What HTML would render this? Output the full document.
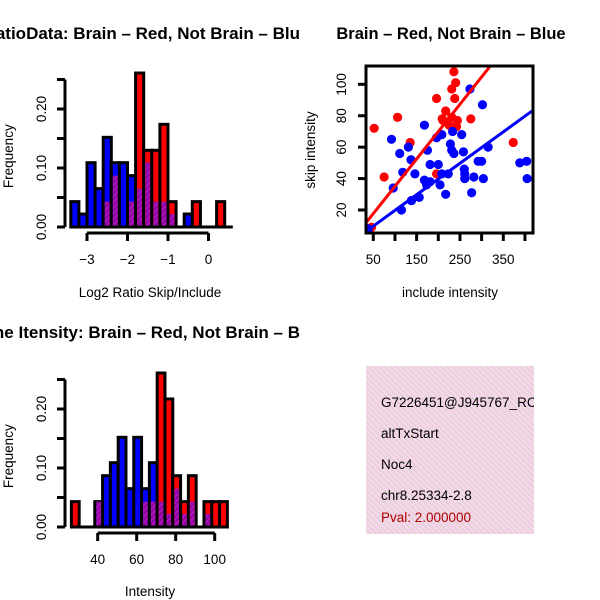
<!DOCTYPE html>
<html><head><meta charset="utf-8"><style>
body{margin:0;background:#fff}
svg{display:block;font-family:"Liberation Sans",sans-serif}
</style></head><body>
<svg id="s" width="600" height="600" viewBox="0 0 600 600">
<defs>
<pattern id="pp" patternUnits="userSpaceOnUse" width="4" height="4" patternTransform="rotate(45)">
<rect width="4" height="4" fill="#b010c0"/><rect width="2" height="4" fill="#8a0a98"/></pattern>
<pattern id="pk" patternUnits="userSpaceOnUse" width="4" height="4" patternTransform="rotate(-45)">
<rect width="4" height="4" fill="#fad2f2"/><rect width="1.3" height="4" fill="#d8d8c4"/></pattern>
<clipPath id="cl"><rect x="0" y="0" width="300" height="600"/></clipPath>
<clipPath id="sc"><rect x="366" y="66" width="167" height="167"/></clipPath>
</defs>
<g clip-path="url(#cl)">
<text x="300" y="39" text-anchor="end" font-size="17" font-weight="bold">RatioData: Brain – Red, Not Brain – Blu</text>
<text x="300" y="338" text-anchor="end" font-size="17" font-weight="bold">Gene Itensity: Brain – Red, Not Brain – B</text>
</g>
<text x="451" y="39" text-anchor="middle" font-size="16.5" font-weight="bold">Brain – Red, Not Brain – Blue</text>
<g id="h1"></g>
<g id="h2"></g>
<g id="sp"></g>
<rect x="366" y="366" width="168" height="168" fill="url(#pk)"/>
<g font-size="13.5">
<text x="381" y="407">G7226451@J945767_RC</text>
<text x="381" y="438">altTxStart</text>
<text x="381" y="469">Noc4</text>
<text x="381" y="500">chr8.25334-2.8</text>
<text x="381" y="522" fill="#b00000">Pval: 2.000000</text>
</g>
<rect x="534" y="360" width="66" height="180" fill="#fff"/>
</svg>
<script>
// Histogram 1: log2 ratio
const h1Start = -3.4, h1Bin = 0.2;
const h1Blue = [0.043,0.022,0.109,0.065,0.152,0.109,0.109,0.087,0.065,0.109,0.043,0.043,0.022,0,0.022,0,0,0,0,0];
const h1Red  = [0,0,0,0,0.043,0.087,0,0.043,0.261,0.13,0.13,0.174,0.043,0,0,0.043,0,0,0.043,0];
const h1XTicks = [-3,-2,-1,0];
// Histogram 2: intensity
const h2Start = 26.5, h2Bin = 4;
const h2Blue = [0,0,0,0.043,0.087,0.109,0.152,0.065,0.152,0.065,0.109,0.043,0.022,0.065,0.022,0.043,0,0.022,0,0];
const h2Red  = [0.043,0,0,0.043,0,0,0,0,0,0.043,0.043,0.261,0.217,0.087,0.043,0.087,0,0.043,0.043,0.043];
const h2XTicks = [40,60,80,100];
const yTicks = [0,0.05,0.10,0.15,0.20,0.25];
const yTickLabels = ["0.00","","0.10","","0.20",""];
// Scatter
const redX = [52,75,106,135,196,236,240,231,238,217,209,225,244,275,373,46,196,211,231,242];
const redY = [72,41,79,63,91,108,101,97,91,83,78,74,77,78,63,9,43,77,79,73];
const blueX = [92,96,111,115,118,131,137,138,146,156,168,168,173,175,181,196,200,204,208,217,208,223,228,231,233,236,254,258,260,261,273,277,282,292,300,302,304,315,388,404,405,38,261,181,138];
const blueY = [65,34,56,20,44,60,52,26,43,28,74,39,36,58,49,66,49,36,43,30,68,43,62,58,70,56,68,57,46,40,97,31,41,51,51,87,40,60,50,51,40,8,43,38,26];
const redFit = [0.3, 0.348];
const blueFit = [-0.26, 0.2];
const sxTicks = [50,100,150,200,250,300,350,400];
const sxLabels = ["50","","150","","250","","350",""];
const syTicks = [20,40,60,80,100];

const NS="http://www.w3.org/2000/svg";
function mk(p,t,a){const e=document.createElementNS(NS,t);for(const k in a)e.setAttribute(k,a[k]);p.appendChild(e);return e;}

function hist(g,start,bin,blue,red,xt,xScale,y0,x0Axis,xLab,xLabY){
  const ys=v=>y0-590*v;
  mk(g,'line',{x1:xScale(start),x2:xScale(start+blue.length*bin),y1:y0,y2:y0,stroke:'#000','stroke-width':3});
  for(let i=0;i<blue.length;i++){
    const xa=xScale(start+i*bin), xb=xScale(start+(i+1)*bin);
    const b=blue[i], r=red[i], mx=Math.max(b,r), mn=Math.min(b,r);
    if(mx<=0) continue;
    const bar=mk(g,'rect',{x:xa,y:ys(mx),width:xb-xa,height:y0-ys(mx),fill:r>b?'#ff0000':'#0000ff',stroke:'#000','stroke-width':3});
    
    
    if(mn>0){const ov=mk(g,'rect',{x:xa+1.5,y:ys(mn),width:xb-xa-3,height:y0-ys(mn)-1.5,fill:'url(#pp)'});
      
      }
  }
  const ax=y0+6;
  mk(g,'line',{x1:xScale(xt[0]),x2:xScale(xt[xt.length-1]),y1:ax,y2:ax,stroke:'#000','stroke-width':3});
  xt.forEach(v=>{mk(g,'line',{x1:xScale(v),x2:xScale(v),y1:ax,y2:ax+8,stroke:'#000','stroke-width':3});
    const t=mk(g,'text',{x:xScale(v),y:y0+37,'text-anchor':'middle','font-size':13.5});t.textContent=v<0?'−'+(-v):v;
    
    });
  mk(g,'line',{x1:x0Axis,x2:x0Axis,y1:ys(0),y2:ys(0.25),stroke:'#000','stroke-width':3});
  yTicks.forEach((v,i)=>{mk(g,'line',{x1:x0Axis,x2:x0Axis-8,y1:ys(v),y2:ys(v),stroke:'#000','stroke-width':3});
    if(yTickLabels[i]){const t=mk(g,'text',{x:0,y:0,'text-anchor':'middle','font-size':13.5,transform:`translate(46,${ys(v)}) rotate(-90)`});t.textContent=yTickLabels[i];
    
    }});
  const fl=mk(g,'text',{'text-anchor':'middle','font-size':13.5,transform:`translate(13,${ys(0.12)}) rotate(-90)`});fl.textContent='Frequency';
  
  
  const xl=mk(g,'text',{x:150,y:xLabY,'text-anchor':'middle','font-size':13.5});xl.textContent=xLab;
  
  
}
hist(document.getElementById('h1'),h1Start,h1Bin,h1Blue,h1Red,h1XTicks,v=>87+(v+3)*40.5,227,65,'Log2 Ratio Skip/Include',297);
hist(document.getElementById('h2'),h2Start,h2Bin,h2Blue,h2Red,h2XTicks,v=>97.7+(v-40)*1.95,527,65,'Intensity',596);

// scatter
const sp=document.getElementById('sp');
const sx=v=>373.3+(v-50)*0.4333, sy=v=>210-(v-20)*1.571;
const pts=mk(sp,'g',{'clip-path':'url(#sc)'});
redX.forEach((x,i)=>{const c=mk(pts,'circle',{cx:sx(x),cy:sy(redY[i]),r:4.6,fill:'#ff0000'});
  
  });
blueX.forEach((x,i)=>{const c=mk(pts,'circle',{cx:sx(x),cy:sy(blueY[i]),r:4.6,fill:'#0000ff'});
  
  });
[[redFit,'#ff0000','red-fit-line'],[blueFit,'#0000ff','blue-fit-line']].forEach(([f,c,n])=>{
  const l=mk(pts,'line',{x1:sx(20),y1:sy(f[0]+f[1]*20),x2:sx(440),y2:sy(f[0]+f[1]*440),stroke:c,'stroke-width':3});
  
  });
const box=mk(sp,'rect',{x:366,y:66,width:167,height:167,fill:'none',stroke:'#000','stroke-width':3});


sxTicks.forEach((v,i)=>{mk(sp,'line',{x1:sx(v),x2:sx(v),y1:233,y2:241,stroke:'#000','stroke-width':3});
  if(sxLabels[i]){const t=mk(sp,'text',{x:sx(v),y:264,'text-anchor':'middle','font-size':13.5});t.textContent=sxLabels[i];
  
  }});
syTicks.forEach(v=>{mk(sp,'line',{x1:366,x2:358,y1:sy(v),y2:sy(v),stroke:'#000','stroke-width':3});
  const t=mk(sp,'text',{'text-anchor':'middle','font-size':13.5,transform:`translate(346,${sy(v)}) rotate(-90)`});t.textContent=v;
  
  });
const yl=mk(sp,'text',{'text-anchor':'middle','font-size':13.5,transform:'translate(315,150) rotate(-90)'});yl.textContent='skip intensity';


const xl=mk(sp,'text',{x:450,y:297,'text-anchor':'middle','font-size':13.5});xl.textContent='include intensity';


</script>
</body></html>
